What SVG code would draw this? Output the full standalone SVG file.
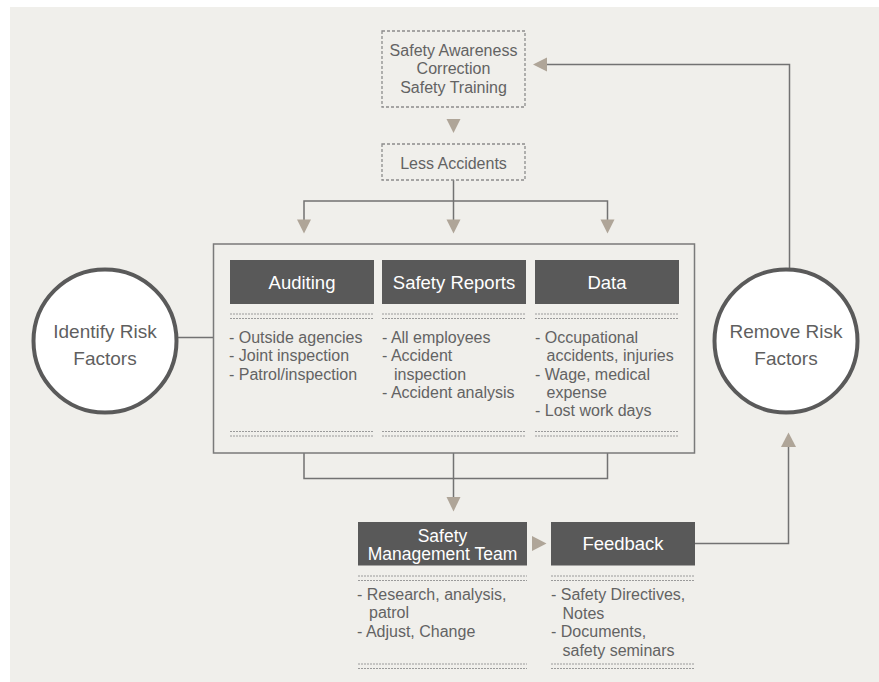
<svg xmlns="http://www.w3.org/2000/svg" width="879" height="682" viewBox="0 0 879 682">
  <style>
    .bg { fill: #f0efeb; }
    .dotbox { fill: none; stroke: #8c8c8c; stroke-width: 1.3; stroke-dasharray: 3 2; }
    .panel { fill: none; stroke: #7a7a7a; stroke-width: 1.5; }
    .head { fill: #595959; }
    .headtxt { font-family: "Liberation Sans", Arial, sans-serif; font-size: 18.5px; fill: #ffffff; text-anchor: middle; }
    .small { font-size: 17.5px; }
    .txt { font-family: "Liberation Sans", Arial, sans-serif; font-size: 16px; fill: #636363; }
    .ctr { text-anchor: middle; }
    .circ { fill: #ffffff; stroke: #5a5a5a; stroke-width: 4; }
    .circtxt { font-family: "Liberation Sans", Arial, sans-serif; font-size: 19px; fill: #5f5f5f; text-anchor: middle; }
    .rule { stroke: #9a9a9a; stroke-width: 1; stroke-dasharray: 2 1; fill: none; }
    .wire { fill: none; stroke: #727272; stroke-width: 1.5; }
    .tip { fill: #afa598; }
  </style>

  <rect class="bg" x="10" y="7" width="869" height="675"/>

  <!-- connectors -->
  <g id="connectors">
    <!-- Less Accidents fans out to the three columns -->
    <polyline class="wire" points="453.5,180 453.5,201"/>
    <polyline class="wire" points="304,220 304,201 607.5,201 607.5,220"/>
    <line class="wire" x1="453.5" y1="201" x2="453.5" y2="220"/>
    <polygon class="tip" points="297,219.5 311,219.5 304,233.5"/>
    <polygon class="tip" points="446.5,219.5 460.5,219.5 453.5,233.5"/>
    <polygon class="tip" points="600.5,219.5 614.5,219.5 607.5,233.5"/>

    <!-- awareness box to Less Accidents -->
    <polygon class="tip" points="446.5,119 460.5,119 453.5,133"/>

    <!-- identify circle to panel -->
    <line class="wire" x1="178" y1="337.5" x2="213.5" y2="337.5"/>

    <!-- columns merge into the management team -->
    <polyline class="wire" points="304,453 304,478.5 607.5,478.5 607.5,453"/>
    <line class="wire" x1="453.5" y1="453" x2="453.5" y2="498"/>
    <polygon class="tip" points="446.5,497 460.5,497 453.5,511.5"/>

    <!-- management team to feedback -->
    <polygon class="tip" points="532,536 532,551 546.5,543.5"/>

    <!-- feedback to remove circle -->
    <polyline class="wire" points="695,543.5 788.5,543.5 788.5,446"/>
    <polygon class="tip" points="781,447 796,447 788.5,432.5"/>

    <!-- remove circle back to awareness box -->
    <polyline class="wire" points="789.5,268 789.5,64.5 546,64.5"/>
    <polygon class="tip" points="547,57.5 547,71.5 533,64.5"/>
  </g>

  <!-- awareness / correction / training -->
  <g id="awareness">
    <rect class="dotbox" x="382" y="31" width="143" height="76"/>
    <text class="txt ctr" x="453.5" y="55.5">Safety Awareness</text>
    <text class="txt ctr" x="453.5" y="74">Correction</text>
    <text class="txt ctr" x="453.5" y="92.5">Safety Training</text>
  </g>

  <g id="less-accidents">
    <rect class="dotbox" x="382" y="144" width="143" height="36"/>
    <text class="txt ctr" x="453.5" y="168.5">Less Accidents</text>
  </g>

  <!-- main panel with three columns -->
  <g id="panel">
    <rect class="panel" x="213.5" y="244" width="481" height="209"/>
  </g>

  <g id="auditing">
    <rect class="head" x="230" y="260" width="144" height="44"/>
    <text class="headtxt" x="302" y="288.5">Auditing</text>
    <line class="rule" x1="230" y1="314" x2="374" y2="314"/>
    <line class="rule" x1="230" y1="318.5" x2="374" y2="318.5"/>
    <text class="txt" x="229" y="342.5">- Outside agencies</text>
    <text class="txt" x="229" y="361">- Joint inspection</text>
    <text class="txt" x="229" y="379.5">- Patrol/inspection</text>
    <line class="rule" x1="230" y1="431.5" x2="374" y2="431.5"/>
    <line class="rule" x1="230" y1="436" x2="374" y2="436"/>
  </g>

  <g id="safety-reports">
    <rect class="head" x="382" y="260" width="144" height="44"/>
    <text class="headtxt" x="454" y="288.5">Safety Reports</text>
    <line class="rule" x1="382" y1="314" x2="526" y2="314"/>
    <line class="rule" x1="382" y1="318.5" x2="526" y2="318.5"/>
    <text class="txt" x="382" y="342.5">- All employees</text>
    <text class="txt" x="382" y="361">- Accident</text>
    <text class="txt" x="394" y="379.5">inspection</text>
    <text class="txt" x="382" y="398">- Accident analysis</text>
    <line class="rule" x1="382" y1="431.5" x2="526" y2="431.5"/>
    <line class="rule" x1="382" y1="436" x2="526" y2="436"/>
  </g>

  <g id="data">
    <rect class="head" x="535" y="260" width="144" height="44"/>
    <text class="headtxt" x="607" y="288.5">Data</text>
    <line class="rule" x1="535" y1="314" x2="679" y2="314"/>
    <line class="rule" x1="535" y1="318.5" x2="679" y2="318.5"/>
    <text class="txt" x="535" y="342.5">- Occupational</text>
    <text class="txt" x="546.5" y="361">accidents, injuries</text>
    <text class="txt" x="535" y="379.5">- Wage, medical</text>
    <text class="txt" x="546.5" y="398">expense</text>
    <text class="txt" x="535" y="416">- Lost work days</text>
    <line class="rule" x1="535" y1="431.5" x2="679" y2="431.5"/>
    <line class="rule" x1="535" y1="436" x2="679" y2="436"/>
  </g>

  <!-- risk circles -->
  <g id="identify">
    <circle class="circ" cx="105" cy="341" r="71.5"/>
    <text class="circtxt" x="105" y="338">Identify Risk</text>
    <text class="circtxt" x="105" y="365">Factors</text>
  </g>

  <g id="remove">
    <circle class="circ" cx="786" cy="341" r="71.5"/>
    <text class="circtxt" x="786" y="338">Remove Risk</text>
    <text class="circtxt" x="786" y="365">Factors</text>
  </g>

  <!-- lower row -->
  <g id="management-team">
    <rect class="head" x="358" y="522" width="169" height="43.5"/>
    <text class="headtxt small" x="442.5" y="541.5">Safety</text>
    <text class="headtxt small" x="442.5" y="560">Management Team</text>
    <line class="rule" x1="358" y1="576" x2="527" y2="576"/>
    <line class="rule" x1="358" y1="580.5" x2="527" y2="580.5"/>
    <text class="txt" x="357" y="599.5">- Research, analysis,</text>
    <text class="txt" x="369" y="617.5">patrol</text>
    <text class="txt" x="357" y="636.5">- Adjust, Change</text>
    <line class="rule" x1="358" y1="664" x2="527" y2="664"/>
    <line class="rule" x1="358" y1="668.5" x2="527" y2="668.5"/>
  </g>

  <g id="feedback">
    <rect class="head" x="551" y="522" width="144" height="43.5"/>
    <text class="headtxt" x="623" y="550">Feedback</text>
    <line class="rule" x1="551" y1="576" x2="695" y2="576"/>
    <line class="rule" x1="551" y1="580.5" x2="695" y2="580.5"/>
    <text class="txt" x="551" y="600">- Safety Directives,</text>
    <text class="txt" x="562.5" y="618.5">Notes</text>
    <text class="txt" x="551" y="637">- Documents,</text>
    <text class="txt" x="562.5" y="655.5">safety seminars</text>
    <line class="rule" x1="551" y1="664" x2="695" y2="664"/>
    <line class="rule" x1="551" y1="668.5" x2="695" y2="668.5"/>
  </g>
</svg>
